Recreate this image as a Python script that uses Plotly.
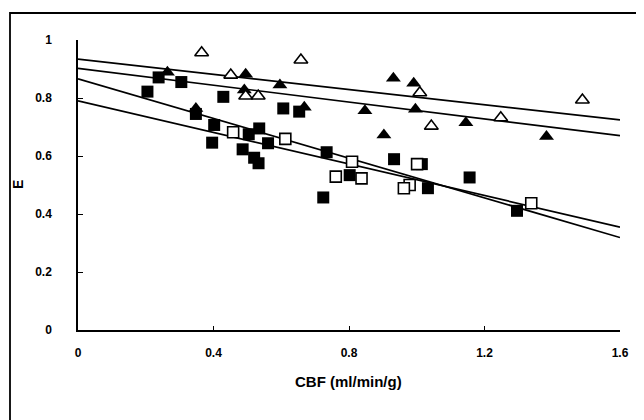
import plotly.graph_objects as go

# ---- data ----
filled_tri_x = [0.264, 0.348, 0.495, 0.491, 0.596, 0.668, 0.847, 0.903, 0.931, 0.991, 0.996, 1.145, 1.383]
filled_tri_y = [0.889, 0.764, 0.882, 0.828, 0.845, 0.768, 0.756, 0.672, 0.868, 0.851, 0.761, 0.715, 0.667]

open_tri_x = [0.365, 0.451, 0.495, 0.532, 0.658, 1.009, 1.043, 1.248, 1.489]
open_tri_y = [0.956, 0.879, 0.807, 0.807, 0.931, 0.818, 0.703, 0.732, 0.793]

filled_sq_x = [0.205, 0.238, 0.305, 0.348, 0.429, 0.402, 0.396, 0.486, 0.504, 0.535, 0.520, 0.533,
               0.561, 0.606, 0.653, 0.734, 0.724, 0.802, 0.933, 1.015, 1.033, 1.156, 1.296]
filled_sq_y = [0.822, 0.871, 0.855, 0.745, 0.804, 0.707, 0.646, 0.623, 0.675, 0.695, 0.594, 0.575,
               0.644, 0.764, 0.753, 0.613, 0.457, 0.534, 0.589, 0.572, 0.489, 0.526, 0.411]

open_sq_x = [0.458, 0.612, 0.809, 0.761, 0.837, 1.001, 0.979, 0.962, 1.338]
open_sq_y = [0.682, 0.659, 0.580, 0.529, 0.523, 0.572, 0.500, 0.489, 0.437]

# regression lines: intercept, slope
fit_intercepts = [0.934, 0.902, 0.866, 0.790]
fit_slopes = [-0.131, -0.145, -0.342, -0.272]
fit_x = [0.0, 1.6]

x_ticks = [0, 0.4, 0.8, 1.2, 1.6]
x_tick_text = ["0", "0.4", "0.8", "1.2", "1.6"]
y_ticks = [0, 0.2, 0.4, 0.6, 0.8, 1.0]
y_tick_text = ["0", "0.2", "0.4", "0.6", "0.8", "1"]

FONT = "Liberation Sans, Arial, sans-serif"

fig = go.Figure()

for b, m in zip(fit_intercepts, fit_slopes):
    fig.add_trace(go.Scatter(x=fit_x, y=[b + m * x for x in fit_x], mode="lines",
                             line=dict(color="black", width=1.7), showlegend=False,
                             hoverinfo="skip"))

fig.add_trace(go.Scatter(x=filled_sq_x, y=filled_sq_y, mode="markers",
                         marker=dict(symbol="square", size=12, color="black",
                                     line=dict(width=0)), showlegend=False))
fig.add_trace(go.Scatter(x=open_sq_x, y=open_sq_y, mode="markers",
                         marker=dict(symbol="square", size=11, color="white",
                                     line=dict(width=1.6, color="black")), showlegend=False))
fig.add_trace(go.Scatter(x=filled_tri_x, y=filled_tri_y, mode="markers",
                         marker=dict(symbol="triangle-up", size=13, color="black",
                                     line=dict(width=0)), showlegend=False))
fig.add_trace(go.Scatter(x=open_tri_x, y=open_tri_y, mode="markers",
                         marker=dict(symbol="triangle-up", size=12, color="white",
                                     line=dict(width=1.6, color="black")), showlegend=False))

# page has an 8px body margin, so the figure is placed 8px right/down
fig.update_layout(
    width=636, height=412,
    margin=dict(l=70, r=24, t=32, b=90),
    paper_bgcolor="white", plot_bgcolor="white",
    font=dict(family=FONT, color="black"),
    showlegend=False,
    xaxis=dict(range=[0, 1.6], tickvals=x_ticks, ticktext=x_tick_text,
               showgrid=False, zeroline=False, showline=True, linecolor="black", linewidth=1.5,
               ticks="inside", ticklen=4, tickwidth=1.2, tickcolor="black",
               tickfont=dict(size=12, weight="bold", family=FONT), ticklabelstandoff=11),
    yaxis=dict(range=[0, 1], tickvals=y_ticks, ticktext=y_tick_text,
               showgrid=False, zeroline=False, showline=True, linecolor="black", linewidth=1.5,
               ticks="inside", ticklen=5, tickwidth=1.2, tickcolor="black",
               tickfont=dict(size=12, weight="bold", family=FONT), ticklabelstandoff=22),
    annotations=[
        dict(text="CBF (ml/min/g)", xref="paper", yref="paper", x=(348 - 78) / 542, y=(330 - 381) / 290,
             showarrow=False, xanchor="center", yanchor="middle",
             font=dict(size=15, weight="bold", family=FONT)),
        dict(text="E", xref="paper", yref="paper", x=(18 - 78) / 542, y=(330 - 185) / 290,
             showarrow=False, xanchor="center", yanchor="middle", textangle=-90,
             font=dict(size=14, weight="bold", family=FONT)),
    ],
    shapes=[
        dict(type="rect", xref="paper", yref="paper",
             x0=(10 - 78) / 542, x1=(640 - 78) / 542, y0=(330 - 430) / 290, y1=(330 - 13) / 290,
             line=dict(color="black", width=1.8), fillcolor="rgba(0,0,0,0)", layer="below"),
    ],
)

fig.write_html("out.html")
